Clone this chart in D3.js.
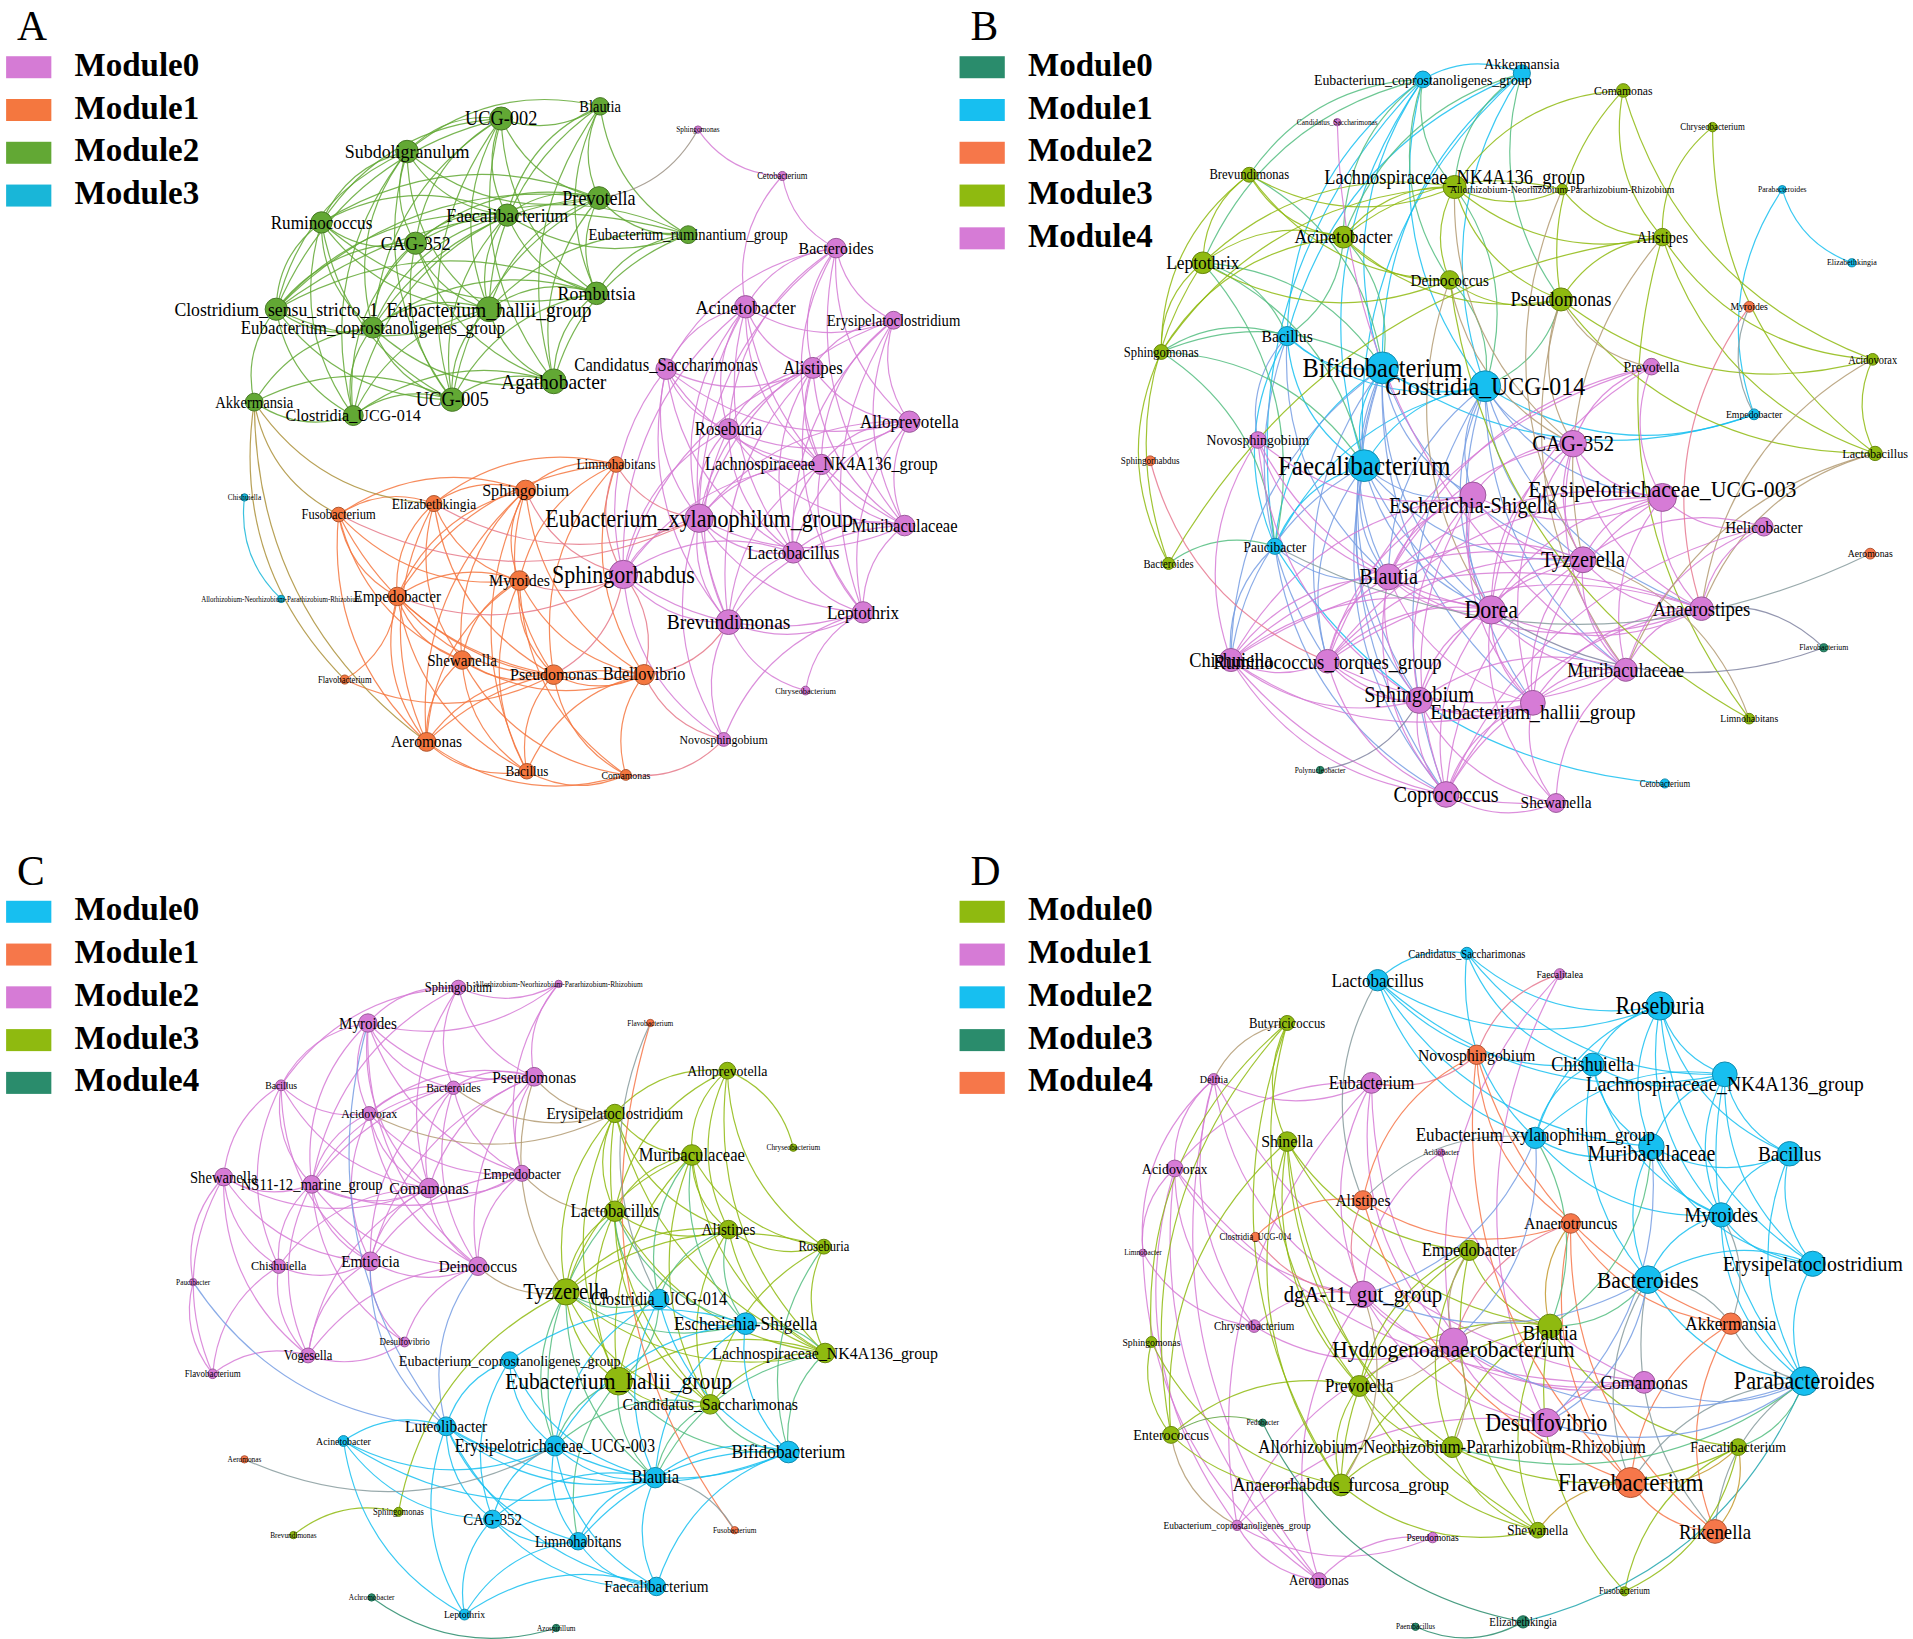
<!DOCTYPE html>
<html>
<head>
<meta charset="utf-8">
<script src="https://cdn.jsdelivr.net/npm/d3@7"></script>
<style>
  body { margin: 0; background: #fff; }
  svg { display: block; }
</style>
</head>
<body>
<div id="chart"></div>
<script>
// panel letters and legend entries
var panelLetters = ["A", "B", "C", "D"];
var moduleCounts = [4, 5, 5, 5];

// module colours of every panel (Module0 .. ModuleN)
var colorsA = ["#d57bd5", "#f4773f", "#62a834", "#19b6d8"];
var colorsB = ["#2a8c6c", "#17bff0", "#f6774a", "#8fba10", "#d67bd6"];
var colorsC = ["#17bff0", "#f6774a", "#d67bd6", "#8fba10", "#2a8c6c"];
var colorsD = ["#8fba10", "#d67bd6", "#17bff0", "#2a8c6c", "#f6774a"];

// nodes: [label, layout x, layout y, module, weight (degree-like, drives size)]
var nodesA = [
    ["UCG-002", 410, 97, 2, 15], ["Blautia", 491, 87, 2, 11.8], ["Subdoligranulum", 333, 124, 2, 14.7],
    ["Prevotella", 490, 162, 2, 14.8], ["Faecalibacterium", 415, 176, 2, 14.5],
    ["Eubacterium_ruminantium_group", 563, 192, 2, 12], ["Ruminococcus", 263, 182, 2, 14],
    ["CAG-352", 340, 199, 2, 14.5], ["Rombutsia", 488, 240, 2, 14.7],
    ["Clostridium_sensu_stricto_1", 226, 253, 2, 14.5], ["Eubacterium_hallii_group", 400, 253, 2, 16],
    ["Eubacterium_coprostanoligenes_group", 305, 268, 2, 13.8], ["Agathobacter", 453, 312, 2, 16],
    ["UCG-005", 370, 327, 2, 15.2], ["Akkermansia", 208, 329, 2, 12], ["Clostridia_UCG-014", 289, 340, 2, 13.2],
    ["Sphingomonas", 571, 106, 0, 6], ["Cetobacterium", 640, 144, 0, 7], ["Bacteroides", 684, 203, 0, 13],
    ["Acinetobacter", 610, 251, 0, 14.6], ["Erysipelatoclostridium", 731, 262, 0, 12],
    ["Candidatus_Saccharimonas", 545, 302, 0, 13.6], ["Alistipes", 665, 301, 0, 13.8],
    ["Roseburia", 596, 351, 0, 13.6], ["Alloprevotella", 744, 345, 0, 14],
    ["Lachnospiraceae_NK4A136_group", 672, 380, 0, 13.4], ["Eubacterium_xylanophilum_group", 572, 424, 0, 18],
    ["Muribaculaceae", 740, 430, 0, 13.6], ["Lactobacillus", 649, 452, 0, 14], ["Sphingorhabdus", 510, 470, 0, 18],
    ["Brevundimonas", 596, 509, 0, 16], ["Leptothrix", 706, 501, 0, 14], ["Chryseobacterium", 659, 565, 0, 6.8],
    ["Novosphingobium", 592, 605, 0, 9.7],
    ["Limnohabitans", 504, 380, 1, 10.8], ["Sphingobium", 430, 401, 1, 13.2], ["Elizabethkingia", 355, 412, 1, 11],
    ["Fusobacterium", 277, 421, 1, 10.2], ["Myroides", 425, 475, 1, 13], ["Empedobacter", 325, 488, 1, 12.4],
    ["Shewanella", 378, 540, 1, 12.4], ["Flavobacterium", 282, 556, 1, 7], ["Pseudomonas", 453, 552, 1, 13],
    ["Bdellovibrio", 527, 552, 1, 13.4], ["Aeromonas", 349, 607, 1, 12.6], ["Bacillus", 431, 631, 1, 10.7],
    ["Comamonas", 512, 634, 1, 8],
    ["Chishuiella", 200, 407, 3, 6], ["Allorhizobium-Neorhizobium-Pararhizobium-Rhizobium", 230, 490, 3, 5.7]
];

var nodesB = [
    ["Akkermansia", 1245, 60, 1, 11.6], ["Eubacterium_coprostanoligenes_group", 1164, 65, 1, 11.4],
    ["Parabacteroides", 1458, 155, 1, 6.3], ["Elizabethkingia", 1515, 215, 1, 6.5], ["Bacillus", 1053, 275, 1, 12.8],
    ["Bifidobacterium", 1131, 301, 1, 20], ["Clostridia_UCG-014", 1215, 316, 1, 19.5], ["Empedobacter", 1435, 339, 1, 8],
    ["Faecalibacterium", 1116, 381, 1, 20.5], ["Paucibacter", 1043, 447, 1, 11], ["Cetobacterium", 1362, 641, 1, 7],
    ["Comamonas", 1328, 74, 3, 9.6], ["Chryseobacterium", 1401, 104, 3, 7.2], ["Brevundimonas", 1022, 143, 3, 10.3],
    ["Lachnospiraceae_NK4A136_group", 1190, 153, 3, 15],
    ["Allorhizobium-Neorhizobium-Pararhizobium-Rhizobium", 1278, 155, 3, 8], ["Acinetobacter", 1099, 194, 3, 14.3],
    ["Alistipes", 1360, 194, 3, 11.8], ["Leptothrix", 984, 215, 3, 14.2], ["Deinococcus", 1186, 229, 3, 12.4],
    ["Pseudomonas", 1277, 245, 3, 15], ["Sphingomonas", 950, 288, 3, 10.3], ["Acidovorax", 1532, 294, 3, 8.5],
    ["Lactobacillus", 1534, 371, 3, 10], ["Bacteroides", 956, 461, 3, 8.7], ["Limnohabitans", 1431, 588, 3, 7.9],
    ["Candidatus_Saccharimonas", 1094, 100, 4, 6], ["Prevotella", 1351, 300, 4, 11.3],
    ["Novosphingobium", 1029, 360, 4, 11.3], ["CAG-352", 1287, 363, 4, 17],
    ["Escherichia-Shigella", 1205, 405, 4, 16.6], ["Erysipelotrichaceae_UCG-003", 1360, 407, 4, 17.8],
    ["Helicobacter", 1443, 431, 4, 12.4], ["Tyzzerella", 1295, 458, 4, 16.6], ["Blautia", 1136, 472, 4, 16.6],
    ["Dorea", 1220, 499, 4, 18], ["Anaerostipes", 1392, 498, 4, 15.3], ["Chishuiella", 1007, 540, 4, 15],
    ["Ruminococcus_torques_group", 1086, 541, 4, 15.3], ["Muribaculaceae", 1330, 548, 4, 15],
    ["Sphingobium", 1161, 573, 4, 16.7], ["Eubacterium_hallii_group", 1254, 575, 4, 16],
    ["Coprococcus", 1183, 650, 4, 16.5], ["Shewanella", 1273, 657, 4, 12.6],
    ["Myroides", 1431, 251, 2, 8], ["Sphingorhabdus", 941, 377, 2, 7.4], ["Aeromonas", 1530, 453, 2, 8],
    ["Flavobacterium", 1492, 530, 0, 6.4], ["Polynucleobacter", 1080, 630, 0, 6]
];

var nodesC = [
    ["Clostridia_UCG-014", 539, 1063, 0, 13.3], ["Escherichia-Shigella", 610, 1083, 0, 14.2],
    ["Eubacterium_coprostanoligenes_group", 417, 1113, 0, 11.6], ["Luteolibacter", 365, 1167, 0, 12.6],
    ["Acinetobacter", 281, 1179, 0, 8], ["Erysipelotrichaceae_UCG-003", 454, 1183, 0, 13.3],
    ["Bifidobacterium", 645, 1188, 0, 14.2], ["Blautia", 536, 1209, 0, 13.5], ["CAG-352", 403, 1243, 0, 12.2],
    ["Limnohabitans", 473, 1261, 0, 11.8], ["Faecalibacterium", 537, 1298, 0, 12.4], ["Leptothrix", 380, 1321, 0, 8],
    ["Flavobacterium", 532, 837, 1, 6], ["Aeromonas", 200, 1194, 1, 6], ["Fusobacterium", 601, 1252, 1, 6],
    ["Sphingobium", 375, 808, 2, 10.2], ["Allorhizobium-Neorhizobium-Pararhizobium-Rhizobium", 457, 805, 2, 6],
    ["Myroides", 301, 837, 2, 12.3], ["Pseudomonas", 437, 881, 2, 12.5], ["Bacillus", 230, 888, 2, 8],
    ["Bacteroides", 371, 890, 2, 9.5], ["Acidovorax", 302, 911, 2, 9.7], ["Shewanella", 183, 963, 2, 12],
    ["NS11-12_marine_group", 255, 969, 2, 12], ["Comamonas", 351, 972, 2, 13], ["Empedobacter", 427, 960, 2, 11],
    ["Chishuiella", 228, 1036, 2, 10], ["Emticicia", 303, 1032, 2, 12.5], ["Deinococcus", 391, 1036, 2, 12.4],
    ["Paucibacter", 158, 1049, 2, 6], ["Desulfovibrio", 331, 1098, 2, 7.4], ["Vogesella", 252, 1109, 2, 10.3],
    ["Flavobacterium", 174, 1124, 2, 7.3],
    ["Alloprevotella", 595, 876, 3, 11.4], ["Erysipelatoclostridium", 503, 911, 3, 12.3],
    ["Chryseobacterium", 649, 939, 3, 6], ["Muribaculaceae", 566, 945, 3, 13.6], ["Lactobacillus", 503, 991, 3, 13.5],
    ["Alistipes", 596, 1006, 3, 12.4], ["Roseburia", 674, 1020, 3, 10.3], ["Tyzzerella", 463, 1057, 3, 16.8],
    ["Lachnospiraceae_NK4A136_group", 675, 1107, 3, 13], ["Eubacterium_hallii_group", 506, 1130, 3, 17.7],
    ["Candidatus_Saccharimonas", 581, 1149, 3, 13], ["Sphingomonas", 326, 1237, 3, 7],
    ["Brevundimonas", 240, 1256, 3, 6],
    ["Achromobacter", 304, 1307, 4, 6], ["Azospirillum", 455, 1332, 4, 6]
];

var nodesD = [
    ["Butyricicoccus", 1053, 837, 0, 10.4], ["Shinella", 1053, 934, 0, 13], ["Empedobacter", 1202, 1023, 0, 13.4],
    ["Blautia", 1268, 1085, 0, 15.5], ["Sphingomonas", 942, 1098, 0, 8], ["Prevotella", 1112, 1134, 0, 13.8],
    ["Enterococcus", 958, 1174, 0, 11.5], ["Allorhizobium-Neorhizobium-Pararhizobium-Rhizobium", 1188, 1184, 0, 13.8],
    ["Faecalibacterium", 1422, 1184, 0, 11.4], ["Anaerorhabdus_furcosa_group", 1097, 1215, 0, 14.3],
    ["Shewanella", 1258, 1252, 0, 10.8], ["Fusobacterium", 1329, 1302, 0, 7],
    ["Faecalitalea", 1276, 797, 1, 8], ["Delftia", 993, 883, 1, 8.3], ["Eubacterium", 1122, 886, 1, 13.7],
    ["Acidobacter", 1179, 943, 1, 6], ["Acidovorax", 961, 956, 1, 11.4], ["Limnobacter", 935, 1025, 1, 6],
    ["dgA-11_gut_group", 1115, 1059, 1, 17], ["Chryseobacterium", 1026, 1085, 1, 9],
    ["Hydrogenoanaerobacterium", 1189, 1098, 1, 17.8], ["Comamonas", 1345, 1131, 1, 14.3],
    ["Desulfovibrio", 1265, 1164, 1, 18], ["Eubacterium_coprostanoligenes_group", 1012, 1248, 1, 7.7],
    ["Pseudomonas", 1172, 1258, 1, 7.8], ["Aeromonas", 1079, 1293, 1, 10.6],
    ["Candidatus_Saccharimonas", 1200, 780, 2, 8.7], ["Lactobacillus", 1127, 802, 2, 14],
    ["Roseburia", 1358, 823, 2, 18], ["Chishuiella", 1303, 871, 2, 14.9],
    ["Lachnospiraceae_NK4A136_group", 1411, 879, 2, 16], ["Eubacterium_xylanophilum_group", 1256, 931, 2, 14],
    ["Muribaculaceae", 1351, 938, 2, 16.4], ["Bacillus", 1464, 944, 2, 15.8], ["Myroides", 1408, 994, 2, 15.7],
    ["Erysipelatoclostridium", 1483, 1034, 2, 16.2], ["Bacteroides", 1348, 1047, 2, 17.6],
    ["Parabacteroides", 1476, 1130, 2, 18.2],
    ["Pedobacter", 1033, 1164, 3, 6], ["Paenibacillus", 1158, 1331, 3, 6], ["Elizabethkingia", 1246, 1327, 3, 8.8],
    ["Novosphingobium", 1208, 863, 4, 12.9], ["Alistipes", 1115, 982, 4, 12.7], ["Anaerotruncus", 1285, 1001, 4, 13],
    ["Clostridia_UCG-014", 1027, 1012, 4, 7], ["Akkermansia", 1416, 1083, 4, 14],
    ["Flavobacterium", 1334, 1213, 4, 19], ["Rikenella", 1403, 1253, 4, 15.4]
];

// edges as "source-target" node indices
var edgesA = "0-1 0-2 0-3 0-4 0-6 0-7 0-8 0-10 0-12 0-13 0-9 0-11 1-2 1-3 1-4 1-5 1-8 1-10 1-12 2-3 2-4 2-6 2-7 2-9 2-10 2-11 2-13 2-15 3-4 3-5 3-6 3-7 3-8 3-10 3-11 3-12 3-13 3-9 4-5 4-6 4-7 4-8 4-9 4-10 4-11 4-13 4-15 5-7 5-8 5-10 5-12 5-9 6-7 6-9 6-10 6-11 6-13 6-15 6-8 7-9 7-10 7-11 7-12 7-13 7-15 8-10 8-11 8-12 8-13 8-9 9-10 9-11 9-13 9-15 9-14 10-11 10-12 10-13 10-15 11-12 11-13 11-15 11-14 12-13 12-15 13-15 13-14 14-15 3-16 16-17 17-18 17-19 18-19 18-20 18-22 18-24 18-25 18-26 18-27 18-23 18-21 19-20 19-21 19-22 19-23 19-25 19-26 19-27 19-28 19-29 19-30 20-22 20-24 20-25 20-26 20-27 20-28 20-31 21-22 21-23 21-26 21-28 21-29 21-30 21-24 21-25 22-23 22-24 22-25 22-26 22-27 22-28 22-29 22-30 22-31 23-24 23-25 23-26 23-27 23-28 23-29 23-30 24-25 24-26 24-27 24-28 24-31 25-26 25-27 25-28 25-29 25-30 25-31 26-27 26-28 26-29 26-30 26-31 26-33 27-28 27-30 27-31 28-29 28-30 28-31 29-30 29-31 30-31 30-33 31-32 30-32 31-33 29-33 34-35 34-36 34-38 34-42 34-43 34-39 35-36 35-37 35-38 35-39 35-40 35-42 35-43 35-44 35-45 36-37 36-38 36-39 36-40 36-42 36-44 37-38 37-39 37-40 37-42 37-44 38-39 38-40 38-42 38-43 38-44 38-45 38-46 39-40 39-42 39-43 39-44 39-45 40-42 40-43 40-44 40-45 40-46 41-39 41-42 42-43 42-44 42-45 42-46 43-44 43-45 43-46 44-45 44-46 45-46 34-26 34-29 35-29 38-29 42-29 43-29 43-30 39-29 46-33 43-33 37-26 36-26 14-37 14-36 14-44 14-41 47-48";

var edgesB = "0-1 0-4 0-5 0-6 0-8 1-4 1-5 1-6 1-8 1-9 4-5 4-6 4-8 4-9 5-6 5-8 5-9 6-8 6-9 8-9 2-3 2-7 9-10 6-7 5-7 5-30 5-34 5-35 5-33 5-37 5-38 5-40 5-41 5-42 6-30 6-31 6-33 6-34 6-35 6-36 6-39 6-41 6-42 6-29 8-30 8-34 8-35 8-37 8-38 8-40 8-42 8-39 8-33 4-34 4-38 9-34 9-37 9-42 4-28 1-13 1-18 1-16 1-14 1-19 0-14 0-16 0-20 4-18 4-21 4-16 5-16 5-18 5-21 5-13 6-14 6-19 6-20 8-18 8-21 9-21 9-24 9-18 11-14 11-17 11-20 11-22 12-17 12-23 13-14 13-16 13-18 13-21 13-19 14-15 14-16 14-17 14-18 14-19 14-20 14-21 15-16 15-17 16-18 16-19 16-20 16-21 17-20 17-22 17-24 17-23 18-19 18-21 18-24 19-20 20-22 20-23 21-24 22-23 17-25 20-27 20-29 17-33 19-29 19-35 14-29 15-33 23-36 22-36 25-33 20-39 26-39 27-29 27-31 27-34 27-35 27-38 28-30 28-34 28-35 28-37 28-40 29-30 29-31 29-33 29-34 29-35 29-36 29-39 29-41 30-31 30-33 30-34 30-35 30-37 30-38 30-40 30-41 30-42 31-33 31-35 31-36 31-39 31-32 31-34 31-38 31-41 32-36 32-33 32-39 32-42 33-34 33-35 33-36 33-37 33-38 33-39 33-40 33-41 33-42 34-35 34-37 34-38 34-40 34-41 34-42 34-36 35-36 35-37 35-38 35-39 35-40 35-41 35-42 35-43 36-38 36-39 36-41 36-42 36-37 37-38 37-40 37-41 37-42 37-43 38-40 38-41 38-42 38-39 39-40 39-41 39-42 39-43 40-41 40-42 40-43 41-42 41-43 42-43 45-38 9-46 44-7 44-36 47-36 48-40 35-47 19-25 23-39";

var edgesC = "15-16 15-17 15-19 15-18 15-23 15-24 15-20 17-16 17-19 17-20 17-21 17-23 17-24 17-25 17-28 17-18 16-18 16-25 18-20 18-21 18-24 18-25 18-27 18-28 18-23 19-21 19-22 19-23 19-26 19-27 19-24 20-21 20-23 20-24 20-25 20-27 20-28 21-23 21-24 21-25 21-27 21-28 22-23 22-26 22-27 22-29 22-31 22-32 22-24 23-24 23-25 23-26 23-27 23-28 23-31 23-30 24-25 24-27 24-28 24-31 24-26 25-27 25-28 26-27 26-31 26-32 27-28 27-31 27-30 28-30 28-31 29-32 31-32 31-30 21-34 20-34 18-34 18-40 28-40 25-37 29-3 17-3 27-3 28-3 33-34 33-36 33-38 33-39 33-37 33-41 34-36 34-37 34-38 34-40 34-42 34-43 34-41 35-33 36-37 36-38 36-39 36-41 36-42 36-43 36-40 37-38 37-40 37-41 37-42 37-43 38-39 38-40 38-41 38-42 38-43 39-41 39-43 39-40 40-41 40-42 40-43 41-42 41-43 42-43 44-45 40-44 37-0 37-1 38-0 38-1 40-0 40-1 40-5 40-7 42-5 42-0 42-7 42-6 42-9 41-1 41-6 43-6 43-7 36-1 36-0 37-5 39-6 41-7 43-5 0-1 0-5 0-6 0-7 1-5 1-6 1-7 1-2 2-3 2-5 2-7 2-8 3-4 3-5 3-6 3-7 3-8 3-9 3-10 3-11 4-5 4-7 4-8 5-6 5-7 5-8 5-9 5-10 6-7 6-9 6-10 7-8 7-9 7-10 8-9 8-10 8-11 9-10 9-11 10-11 4-11 12-14 13-5 14-7 46-47 12-0";

var edgesD = "26-27 26-28 26-29 26-30 26-31 27-28 27-29 27-31 27-32 27-30 28-29 28-30 28-31 28-32 28-33 28-34 29-30 29-31 29-32 29-34 29-36 30-31 30-32 30-33 30-34 30-35 31-32 31-34 32-33 32-34 32-35 32-36 33-34 33-35 33-37 34-35 34-36 34-37 35-36 35-37 36-37 30-37 28-35 12-41 12-22 12-20 13-16 13-14 13-19 13-18 13-21 13-25 14-16 14-18 14-20 14-22 14-41 15-18 15-21 16-17 16-18 16-19 16-21 16-23 16-25 17-19 17-25 18-19 18-20 18-22 18-21 18-25 19-20 20-21 20-22 20-23 21-22 22-23 23-24 24-25 23-25 13-17 14-23 0-1 0-4 0-6 0-5 0-9 1-2 1-3 1-5 1-7 1-9 1-10 1-6 2-3 2-5 2-7 2-9 2-10 3-5 3-7 3-8 3-9 3-10 3-11 4-6 5-7 5-9 5-6 6-9 7-8 7-9 7-10 8-11 5-10 9-10 4-9 3-20 2-20 5-20 7-20 9-18 0-13 6-23 41-42 41-43 41-46 41-45 42-43 42-44 42-46 42-18 43-45 43-46 43-47 45-46 45-47 46-47 44-18 43-3 43-20 45-36 45-37 36-46 36-47 37-47 37-46 45-34 18-31 18-36 20-37 22-37 22-36 21-37 20-31 22-32 3-36 8-37 3-32 7-37 3-31 27-42 31-42 40-37 38-6 38-40 39-40 11-8 46-10 46-8 47-8";

// small vertical label shifts (panel index -> node index -> dy) where labels sit off-centre
var labelNudges = {
    0: {21: -4},
    1: {0: -8, 14: -8, 30: 9, 31: -7, 40: -5, 41: 7},
    3: {3: 5, 20: 6, 30: 8, 31: -3, 32: 6}
};

var W = 1913, H = 1639;
var k = W / 1565;
var fontFamily = "'Liberation Serif', 'Times New Roman', serif";

var x = d3.scaleLinear().domain([0, 1565]).range([0, W]);
var y = d3.scaleLinear().domain([0, 1341]).range([0, H]);
var rScale = d3.scaleLinear().domain([6, 20]).range([3 * k, 13 * k]).clamp(true);
var fontScale = d3.scaleLinear().domain([0, 20]).range([0, 20 * k]);
var labelStretch = 1.1; // labels are drawn slightly condensed, as in the figure

var panels = [
    {nodes: nodesA, edges: edgesA, colors: colorsA, ox: 0, oy: 0},
    {nodes: nodesB, edges: edgesB, colors: colorsB, ox: 780, oy: 0},
    {nodes: nodesC, edges: edgesC, colors: colorsC, ox: 0, oy: 691},
    {nodes: nodesD, edges: edgesD, colors: colorsD, ox: 780, oy: 691}
];

var svg = d3.select("#chart").append("svg")
    .attr("width", W)
    .attr("height", H)
    .style("background", "#fff");

function parseEdges(str, nodes) {
    return str.trim().split(/\s+/).map(function(s) {
        var p = s.split("-").map(Number);
        return {s: nodes[p[0]], t: nodes[p[1]]};
    });
}

function edgePath(d) {
    var x1 = x(d.s[1]), y1 = y(d.s[2]), x2 = x(d.t[1]), y2 = y(d.t[2]);
    var dx = x2 - x1, dy = y2 - y1;
    var cx = (x1 + x2) / 2 - dy * 0.25,
        cy = (y1 + y2) / 2 + dx * 0.25;
    return `M${x1},${y1}Q${cx},${cy} ${x2},${y2}`;
}

panels.forEach(function(panel, pi) {
    var g = svg.append("g").attr("class", "panel");
    var colors = panel.colors;
    var nudges = labelNudges[pi] || {};
    var links = parseEdges(panel.edges, panel.nodes);

    // edges, coloured by module (mixed when they join two modules)
    g.append("g")
        .selectAll("path")
        .data(links)
        .join("path")
        .attr("d", edgePath)
        .attr("fill", "none")
        .attr("stroke", function(d) {
            var a = colors[d.s[3]], b = colors[d.t[3]];
            return a === b ? a : d3.interpolateRgb(a, b)(0.5);
        })
        .attr("stroke-width", 1.2)
        .attr("stroke-opacity", 0.85);

    // nodes
    g.append("g")
        .selectAll("circle")
        .data(panel.nodes)
        .join("circle")
        .attr("cx", d => x(d[1]))
        .attr("cy", d => y(d[2]))
        .attr("r", d => rScale(d[4]))
        .attr("fill", d => colors[d[3]])
        .attr("stroke", d => d3.color(colors[d[3]]).darker(0.9))
        .attr("stroke-width", 1);

    // labels on top
    g.append("g")
        .selectAll("text")
        .data(panel.nodes)
        .join("text")
        .attr("transform", (d, i) =>
            `translate(${x(d[1])},${y(d[2] + (nudges[i] || 0))}) scale(${1 / labelStretch},1)`)
        .attr("text-anchor", "middle")
        .attr("dominant-baseline", "central")
        .style("font-family", fontFamily)
        .style("font-size", d => (fontScale(d[4]) * labelStretch) + "px")
        .attr("fill", "#000")
        .text(d => d[0]);

    // panel letter
    svg.append("text")
        .attr("x", x(panel.ox + 14))
        .attr("y", y(panel.oy + 33))
        .style("font-family", fontFamily)
        .style("font-size", (34 * k) + "px")
        .text(panelLetters[pi]);

    // legend
    var legend = svg.append("g");
    d3.range(moduleCounts[pi]).forEach(function(m) {
        legend.append("rect")
            .attr("x", x(panel.ox + 5))
            .attr("y", y(panel.oy + 46 + m * 35))
            .attr("width", 37 * k)
            .attr("height", 18 * k)
            .attr("fill", colors[m]);
        legend.append("text")
            .attr("x", x(panel.ox + 61))
            .attr("y", y(panel.oy + 62 + m * 35))
            .style("font-family", fontFamily)
            .style("font-weight", "bold")
            .style("font-size", (27 * k) + "px")
            .text("Module" + m);
    });
});
</script>
</body>
</html>
